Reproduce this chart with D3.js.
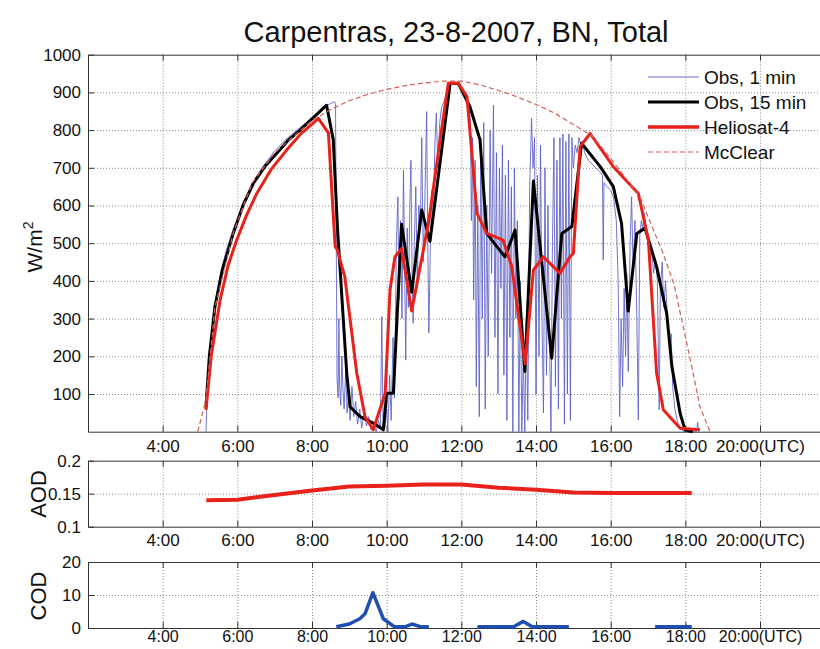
<!DOCTYPE html>
<html><head><meta charset="utf-8">
<script src="https://cdn.jsdelivr.net/npm/d3@7"></script>
<style>
body{margin:0;background:#fff}
svg{display:block}
text{font-family:"Liberation Sans",Arial,Helvetica,sans-serif;fill:#111}
</style>
</head><body><svg id="c" width="820" height="649"></svg>
<script>
// ---------------- DATA ----------------
const title = "Carpentras, 23-8-2007, BN, Total";
const hourTicks = [4, 6, 8, 10, 12, 14, 16, 18, 20];
const hourTickLabels = ["4:00", "6:00", "8:00", "10:00", "12:00", "14:00", "16:00", "18:00", "20:00(UTC)"];
const irrTicks = [100, 200, 300, 400, 500, 600, 700, 800, 900, 1000];
const aodTicks = [0.1, 0.15, 0.2];
const codTicks = [0, 10, 20];
const legendLabels = ["Obs, 1 min", "Obs, 15 min", "Heliosat-4", "McClear"];

// Obs 1 min (hour, W/m2)
const obs1Hours = [5.16,5.18,5.25,5.33,5.42,5.55,5.7,5.9,6.1,6.4,6.7,7.0,7.3,7.6,7.9,8.2,8.45,8.6,8.63,8.65,8.67,8.70,8.72,8.74,8.77,8.80,8.83,8.86,8.90,8.94,8.98,9.02,9.07,9.12,9.17,9.22,9.28,9.33,9.40,9.46,9.52,9.58,9.65,9.72,9.78,9.83,9.87,9.90,9.95,10.0,10.03,10.08,10.12,10.17,10.21,10.26,10.30,10.33,10.37,10.41,10.45,10.48,10.51,10.55,10.58,10.62,10.65,10.68,10.71,10.74,10.78,10.82,10.86,10.90,10.94,10.98,11.02,11.07,11.10,11.13,11.17,11.21,11.25,11.29,11.33,11.37,11.42,11.47,11.55,11.62,11.70,11.78,11.86,11.95,12.05,12.13,12.20,12.24,12.27,12.30,12.33,12.37,12.40,12.44,12.48,12.52,12.56,12.60,12.64,12.68,12.72,12.77,12.81,12.86,12.90,12.94,12.98,13.02,13.06,13.10,13.14,13.18,13.22,13.26,13.30,13.34,13.38,13.42,13.46,13.50,13.54,13.58,13.62,13.66,13.70,13.74,13.78,13.83,13.88,13.92,13.96,14.00,14.04,14.08,14.12,14.16,14.20,14.24,14.28,14.32,14.36,14.40,14.44,14.48,14.52,14.56,14.60,14.64,14.68,14.72,14.76,14.80,14.84,14.88,14.92,14.96,15.00,15.05,15.10,15.15,15.2,15.25,15.3,15.4,15.5,15.6,15.7,15.78,15.8,15.82,15.9,16.0,16.08,16.15,16.2,16.24,16.28,16.32,16.36,16.40,16.43,16.47,16.52,16.56,16.60,16.65,16.70,16.74,16.78,16.82,16.86,16.90,16.95,17.0,17.05,17.1,17.15,17.2,17.25,17.3,17.33,17.38,17.42,17.47,17.52,17.58,17.62,17.66,17.72,17.78,17.85,17.95,18.3,18.33,18.36];
const obs1Values = [0,60,180,280,350,420,480,540,590,660,705,745,775,800,825,850,868,875,870,500,140,90,300,120,70,200,110,60,160,50,100,30,120,40,80,20,60,10,50,15,40,5,20,0,30,10,305,40,10,60,0,150,30,250,90,500,623,350,560,300,694,450,190,540,330,600,720,420,288,500,650,380,600,540,780,450,600,849,500,262,500,640,560,760,845,700,820,860,880,905,920,925,922,915,900,880,860,830,560,780,350,720,120,600,40,780,300,820,60,600,200,800,420,866,250,740,100,700,380,760,150,680,30,720,250,650,0,700,300,560,0,400,0,200,0,300,30,650,831,700,780,100,680,200,760,300,50,700,150,600,250,0,500,780,120,720,60,780,300,790,20,770,100,790,30,780,700,760,740,780,760,770,740,720,710,700,690,680,455,660,650,640,620,560,400,40,300,120,380,200,420,160,500,623,430,560,300,31,520,560,540,580,530,500,460,480,420,460,400,58,380,450,330,400,300,220,260,120,60,30,10,0,0,25,0];

// Obs 15 min
const obs15Hours = [5.16,5.25,5.40,5.6,5.89,6.15,6.43,6.75,7.05,7.35,7.68,8.0,8.39,8.57,8.68,8.93,9.02,9.29,9.64,9.91,10.0,10.18,10.40,10.67,10.94,11.16,11.70,11.92,12.23,12.5,12.68,12.95,13.17,13.44,13.70,13.93,14.42,14.69,14.96,15.22,15.72,16.07,16.29,16.47,16.70,16.92,17.23,17.50,17.64,17.86,17.99,18.2];
const obs15Values = [66,200,332,430,526,600,659,705,738,772,800,830,866,774,544,155,66,40,23,5,102,102,550,370,588,505,924,924,862,774,526,491,464,535,160,665,195,526,544,765,703,650,553,320,526,540,438,314,172,49,5,0];

// Heliosat-4
const helioHours = [5.16,5.3,5.54,5.75,5.98,6.25,6.52,6.9,7.32,7.7,8.13,8.17,8.44,8.62,8.68,8.88,9.20,9.42,9.64,9.96,10.09,10.22,10.40,10.67,11.12,11.43,11.65,11.92,12.15,12.42,12.68,13.12,13.35,13.71,13.93,14.20,14.64,14.91,15.0,15.18,15.45,16.07,16.74,17.01,17.23,17.41,17.86,18.39];
const helioValues = [58,200,350,440,508,575,632,695,747,790,827,831,792,491,482,410,155,40,5,102,376,464,486,320,553,774,924,924,889,579,526,508,438,180,429,464,420,464,473,756,791,703,632,508,155,58,9,5];

// McClear
const mcHours = [4.94,5.16,5.4,5.9,6.4,7.0,7.7,8.0,8.5,9.0,9.5,10.0,10.5,11.0,11.5,12.0,12.5,13.0,13.5,14.0,14.5,15.0,15.5,16.0,16.5,16.8,17.0,17.4,17.7,17.94,18.2,18.39,18.66];
const mcValues = [0,85,330,530,660,740,800,825,855,878,895,908,918,925,930,930,920,905,888,868,845,815,785,725,660,620,570,474,390,279,160,66,0];

// AOD
const aodHours = [5.17,6.0,7.0,8.0,9.0,10.0,11.0,12.0,13.0,14.0,15.0,16.0,18.17];
const aodValues = [0.140,0.141,0.148,0.155,0.161,0.162,0.164,0.164,0.159,0.156,0.152,0.151,0.151];

// COD (null = gap)
const codHours = [8.65,9.0,9.28,9.42,9.63,9.91,10.2,10.5,10.68,10.9,11.13,11.8,12.43,13.4,13.66,13.9,14.88,16.0,17.19,18.17];
const codValues = [0.4,1.2,2.8,4.3,10.7,2.8,0.4,0.4,1.2,0.4,0.4,null,0.4,0.4,2.0,0.4,0.4,null,0.4,0.4];

// ---------------- DRAW ----------------
const svg = d3.select("#c");
const x = d3.scaleLinear().domain([2, 22]).range([88, 834.7]);
const panels = {
  main: {y: d3.scaleLinear().domain([0, 1000]).range([431.7, 54.7]), ticks: irrTicks, fmt: d => String(d), pad: 8, fs: 17},
  aod: {y: d3.scaleLinear().domain([0.1, 0.2]).range([526.7, 460.7]), ticks: aodTicks, fmt: d => String(d), pad: 7, fs: 17},
  cod: {y: d3.scaleLinear().domain([0, 20]).range([628, 562]), ticks: codTicks, fmt: d => String(d), pad: 3, fs: 16}
};

function drawPanel(p) {
  const g = svg.append("g");
  const top = p.y.range()[1], bot = p.y.range()[0];
  const h = bot - top;
  g.append("g").attr("transform", `translate(0,${bot})`)
    .call(d3.axisBottom(x).tickValues(hourTicks).tickSize(-h).tickFormat(""))
    .call(a => a.select(".domain").remove())
    .selectAll("line").attr("stroke", "#8a8a8a").attr("stroke-dasharray", "1,2");
  const inner = p.ticks.filter(t => t !== p.y.domain()[0] && t !== p.y.domain()[1]);
  g.append("g").attr("transform", `translate(${x.range()[0]},0)`)
    .call(d3.axisLeft(p.y).tickValues(inner).tickSize(-(x.range()[1] - x.range()[0])).tickFormat(""))
    .call(a => a.select(".domain").remove())
    .selectAll("line").attr("stroke", "#8a8a8a").attr("stroke-dasharray", "1,2");
  const ax = g.append("g").attr("transform", `translate(0,${bot})`)
    .call(d3.axisBottom(x).tickValues(hourTicks).tickSizeInner(-6).tickSizeOuter(0).tickPadding(p.pad)
      .tickFormat((d, i) => hourTickLabels[i]));
  ax.select(".domain").attr("stroke", "#333");
  ax.selectAll("line").attr("stroke", "#333");
  ax.selectAll("text").attr("font-size", p.fs).attr("fill", "#111").attr("font-family", "Liberation Sans, Arial, sans-serif");
  const at = g.append("g").attr("transform", `translate(0,${top})`)
    .call(d3.axisTop(x).tickValues(hourTicks).tickSizeInner(-6).tickSizeOuter(0).tickFormat(""));
  at.select(".domain").attr("stroke", "#333");
  at.selectAll("line").attr("stroke", "#333");
  const al = g.append("g").attr("transform", `translate(${x.range()[0]},0)`)
    .call(d3.axisLeft(p.y).tickValues(p.ticks).tickSizeInner(-6).tickSizeOuter(0).tickPadding(7).tickFormat(p.fmt));
  al.select(".domain").attr("stroke", "#333");
  al.selectAll("line").attr("stroke", "#333");
  al.selectAll("text").attr("font-size", 17).attr("fill", "#111").attr("font-family", "Liberation Sans, Arial, sans-serif");
  return g;
}

drawPanel(panels.main);
drawPanel(panels.aod);
drawPanel(panels.cod);

function series(hours, values) { return hours.map((h, i) => [h, values[i]]); }
const lineMain = d3.line().defined(d => d[1] !== null).x(d => x(d[0])).y(d => panels.main.y(d[1]));

svg.append("path").datum(series(obs1Hours, obs1Values)).attr("d", lineMain)
  .attr("fill", "none").attr("stroke", "#5a5ec4").attr("stroke-opacity", 0.85).attr("stroke-width", 1);
svg.append("path").datum(series(obs15Hours, obs15Values)).attr("d", lineMain)
  .attr("fill", "none").attr("stroke", "#000").attr("stroke-width", 3).attr("stroke-linejoin", "round");
svg.append("path").datum(series(helioHours, helioValues)).attr("d", lineMain)
  .attr("fill", "none").attr("stroke", "#e8211b").attr("stroke-width", 3).attr("stroke-linejoin", "round");
svg.append("path").datum(series(mcHours, mcValues)).attr("d", lineMain)
  .attr("fill", "none").attr("stroke", "#d4605a").attr("stroke-width", 1.2).attr("stroke-dasharray", "5,3");

const lineAod = d3.line().x(d => x(d[0])).y(d => panels.aod.y(d[1]));
svg.append("path").datum(series(aodHours, aodValues)).attr("d", lineAod)
  .attr("fill", "none").attr("stroke", "#e8211b").attr("stroke-width", 4);

const lineCod = d3.line().defined(d => d[1] !== null).x(d => x(d[0])).y(d => panels.cod.y(d[1]));
svg.append("path").datum(series(codHours, codValues)).attr("d", lineCod)
  .attr("fill", "none").attr("stroke", "#1f4fb0").attr("stroke-width", 3.5).attr("stroke-linejoin", "round");

svg.append("text").attr("x", 456).attr("y", 42).attr("text-anchor", "middle")
  .attr("font-size", 29).text(title);

svg.append("text").attr("transform", "translate(42,247) rotate(-90)").attr("text-anchor", "middle")
  .attr("font-size", 21).html('W/m<tspan dy="-9" font-size="14">2</tspan>');
svg.append("text").attr("transform", "translate(46,494) rotate(-90)").attr("text-anchor", "middle")
  .attr("font-size", 22).text("AOD");
svg.append("text").attr("transform", "translate(46,596) rotate(-90)").attr("text-anchor", "middle")
  .attr("font-size", 22).text("COD");

const legStyles = [
  {stroke: "#6b6fd6", w: 1.2, dash: null},
  {stroke: "#000", w: 3, dash: null},
  {stroke: "#e8211b", w: 3.5, dash: null},
  {stroke: "#d4605a", w: 1.2, dash: "5,3"}
];
const legY = [77, 102, 127, 152];
legendLabels.forEach((lab, i) => {
  const s = legStyles[i];
  svg.append("line").attr("x1", 648).attr("x2", 699).attr("y1", legY[i]).attr("y2", legY[i])
    .attr("stroke", s.stroke).attr("stroke-width", s.w).attr("stroke-dasharray", s.dash);
  svg.append("text").attr("x", 704).attr("y", legY[i] + 7).attr("font-size", 19).text(lab);
});
</script></body></html>
